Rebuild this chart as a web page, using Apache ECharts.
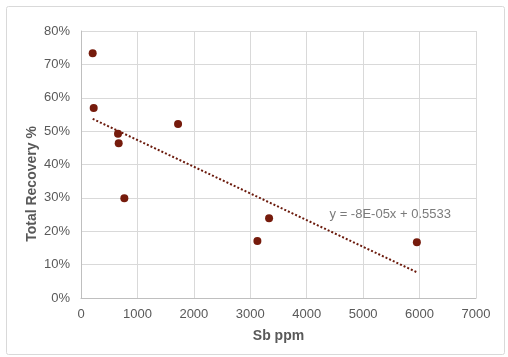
<!DOCTYPE html>
<html>
<head>
<meta charset="utf-8">
<script src="https://cdn.jsdelivr.net/npm/echarts@6/dist/echarts.min.js"></script>
<style>
html,body{margin:0;padding:0;background:#fff;}
#chart{width:508px;height:357px;}
</style>
</head>
<body>
<div id="chart"></div>
<script>
// Data
const sbPpm = [207, 225, 656, 668, 1720, 768, 3126, 3333, 5952];
const totalRecovery = [0.733, 0.569, 0.492, 0.464, 0.521, 0.299, 0.171, 0.239, 0.167];
const trendSlope = -0.00008;
const trendIntercept = 0.5533;
const trendLabel = 'y = -8E-05x + 0.5533';
const xTicks = [0, 1000, 2000, 3000, 4000, 5000, 6000, 7000];
const yTicks = [0, 0.1, 0.2, 0.3, 0.4, 0.5, 0.6, 0.7, 0.8];

const points = sbPpm.map((x, i) => [x, totalRecovery[i]]);
const xMin = Math.min(...sbPpm), xMax = Math.max(...sbPpm);
const trend = [[xMin, trendIntercept + trendSlope * xMin], [xMax, trendIntercept + trendSlope * xMax]];

const chart = echarts.init(document.getElementById('chart'), null, {renderer: 'canvas'});
const txt = '#595959';
const font = 'Liberation Sans, Arial';
chart.setOption({
  animation: false,
  backgroundColor: '#fff',
  grid: {left: 81, right: 32, top: 31, bottom: 59, containLabel: false},
  xAxis: {
    type: 'value', min: xTicks[0], max: xTicks[xTicks.length - 1], interval: 1000,
    name: 'Sb ppm', nameLocation: 'middle', nameGap: 31,
    nameTextStyle: {color: txt, fontSize: 14, fontWeight: 'bold', fontFamily: font},
    axisLine: {lineStyle: {color: '#bfbfbf', width: 1}},
    axisTick: {show: false},
    axisLabel: {color: txt, fontSize: 13, fontFamily: font, margin: 10, formatter: v => String(v)},
    splitLine: {lineStyle: {color: '#d9d9d9', width: 1}}
  },
  yAxis: {
    type: 'value', min: yTicks[0], max: yTicks[yTicks.length - 1], interval: 0.1,
    axisLine: {show: true, lineStyle: {color: '#bfbfbf', width: 1}},
    axisTick: {show: false},
    axisLabel: {color: txt, fontSize: 13, fontFamily: font, margin: 11,
      formatter: v => Math.round(v * 100) + '%'},
    splitLine: {lineStyle: {color: '#d9d9d9', width: 1}}
  },
  graphic: [
    {type: 'rect', left: 4, top: 4, shape: {width: 498, height: 348, r: 2},
      style: {fill: 'none', stroke: '#d9d9d9', lineWidth: 1}, silent: true, z: -1},
    {type: 'text', x: 32, y: 184, rotation: Math.PI / 2,
      style: {text: 'Total Recovery %', fill: txt, font: 'bold 14px "Liberation Sans", Arial',
        align: 'center', verticalAlign: 'middle'}}
  ],
  series: [
    {
      type: 'line', data: trend, showSymbol: false, symbol: 'none',
      lineStyle: {color: '#6b1a0c', width: 2, type: [2, 2]},
      z: 1
    },
    {
      type: 'scatter', data: [[5480, 0.2515]], symbolSize: 0, silent: true,
      label: {show: true, position: 'inside', formatter: trendLabel, color: txt, fontSize: 13, fontFamily: font},
      z: 2
    },
    {
      type: 'scatter', data: points, symbol: 'circle', symbolSize: 8,
      itemStyle: {color: '#761b0c', opacity: 1}, z: 3
    }
  ]
});
</script>
</body>
</html>
